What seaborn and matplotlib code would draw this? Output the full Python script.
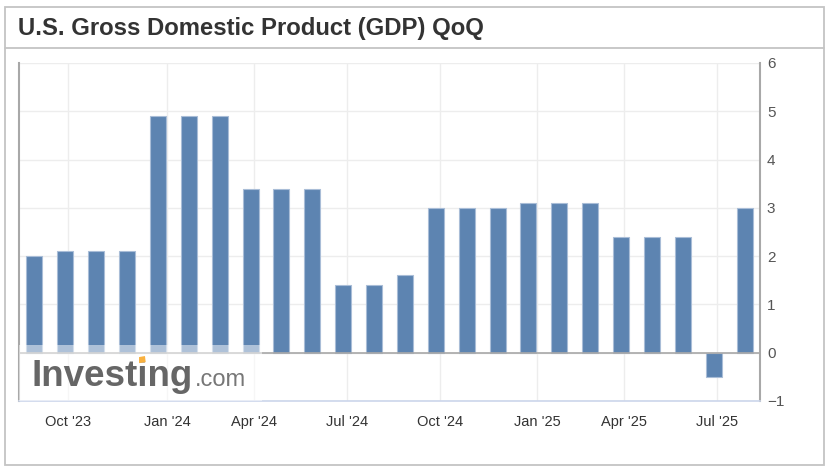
import matplotlib
matplotlib.use("Agg")
import matplotlib.pyplot as plt
import numpy as np
import pandas as pd
import seaborn as sns
from matplotlib.patches import Rectangle, Polygon
from matplotlib.lines import Line2D

# Valores (PIB dos EUA, trimestral anualizado, %)
meses = [str(p) for p in pd.period_range("2023-09", periods=24, freq="M")]
pib_qoq = [2.0, 2.1, 2.1, 2.1, 4.9, 4.9, 4.9, 3.4, 3.4, 3.4, 1.4, 1.4,
           1.6, 3.0, 3.0, 3.0, 3.1, 3.1, 3.1, 2.4, 2.4, 2.4, -0.5, 3.0]
rotulos_x = ["Oct '23", "Jan '24", "Apr '24", "Jul '24",
             "Oct '24", "Jan '25", "Apr '25", "Jul '25"]
# posição dos rótulos no eixo ordinal (entre as barras)
posicoes_x = [1.09, 4.29, 7.11, 10.12, 13.14, 16.28, 19.1, 22.1]
rotulos_y = [-1, 0, 1, 2, 3, 4, 5, 6]

dados = pd.DataFrame({"mes": meses, "valor": pib_qoq})

sns.set_style("white")
plt.rcParams["font.family"] = ["Liberation Sans", "DejaVu Sans"]

fig = plt.figure(figsize=(8.28, 4.68), dpi=100)
ax = fig.add_axes([19 / 828, 1 - 401 / 468, 741 / 828, 338 / 468])

# moldura externa e linha do título
fig.patches.append(Rectangle((5 / 828, 3 / 468), 819 / 828, 458 / 468,
                             transform=fig.transFigure, fill=False,
                             edgecolor="#c4c4c4", linewidth=1.3))
fig.lines.append(Line2D([5 / 828, 824 / 828], [1 - 48 / 468, 1 - 48 / 468],
                        transform=fig.transFigure, color="#c4c4c4", linewidth=1.3))
fig.text(18 / 828, 1 - 35 / 468, "U.S. Gross Domestic Product (GDP) QoQ",
         fontsize=17.2, fontweight="bold", color="#333333", va="baseline", ha="left")

sns.barplot(data=dados, x="mes", y="valor", color="#5d84b1", saturation=1,
            width=0.52, edgecolor="#a9bdd7", linewidth=0.8, ax=ax, zorder=3)

ax.set_xlim(-0.5, len(meses) - 0.5)
ax.set_ylim(-1, 6)
ax.set_yticks(rotulos_y)
ax.set_xticks(posicoes_x)
ax.set_xticklabels(rotulos_x)
ax.yaxis.tick_right()
ax.tick_params(axis="y", length=0, pad=5, labelsize=11, labelcolor="#555555")
ax.tick_params(axis="x", length=0, pad=10, labelsize=10.5, labelcolor="#333333")
ax.set_xlabel("")
ax.set_ylabel("")
ax.grid(True, color="#ededed", linewidth=1, zorder=0)
ax.set_axisbelow(True)
ax.axhline(0, color="#a8a8a8", linewidth=1.2, zorder=4)

ax.spines["top"].set_visible(False)
ax.spines["left"].set_color("#a8a8a8")
ax.spines["left"].set_linewidth(1.5)
ax.spines["right"].set_color("#a8a8a8")
ax.spines["right"].set_linewidth(1.5)
ax.spines["bottom"].set_color("#ccd6eb")
ax.spines["bottom"].set_linewidth(1.2)

# marca d'água com fundo branco semi-transparente
ax.add_patch(Rectangle((0, 0), 0.328, 0.166, transform=ax.transAxes,
                       facecolor="white", alpha=0.5, edgecolor="none", zorder=5))
ax.text(0.0175, 0.044, "Investing", transform=ax.transAxes, fontsize=26.5,
        fontweight="bold", color="#666666", ha="left", va="baseline", zorder=6)
ax.text(0.2375, 0.044, ".com", transform=ax.transAxes, fontsize=17,
        color="#777777", ha="left", va="baseline", zorder=6)
# pingo laranja do "i" do logo
ax.add_patch(Polygon([(0.162, 0.112), (0.171, 0.115), (0.170, 0.133), (0.162, 0.130)],
                     closed=True, transform=ax.transAxes, facecolor="#f9b13f",
                     edgecolor="none", zorder=7))

fig.savefig("out.png", dpi=100)
